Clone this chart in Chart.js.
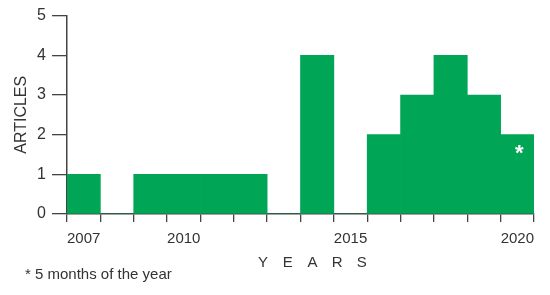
<!DOCTYPE html>
<html>
<head>
<meta charset="utf-8">
<script src="https://cdn.jsdelivr.net/npm/chart.js@4"></script>
<style>
  html, body { margin: 0; padding: 0; background: #fff; }
  #wrap { width: 550px; height: 295px; position: relative; }
</style>
</head>
<body>
<div id="wrap"><canvas id="articles-chart" width="550" height="295"></canvas></div>
<script>
// Data
const years = ['2007', '2008', '2009', '2010', '2011', '2012', '2013', '2014', '2015', '2016', '2017', '2018', '2019', '2020'];
const articles = [1, 0, 1, 1, 1, 1, 0, 4, 0, 2, 3, 4, 3, 2];
const shownYears = ['2007', '2010', '2015', '2020'];
const yTicks = [0, 1, 2, 3, 4, 5];
const partialYear = '2020';

const axisColor = '#444';
const textColor = '#333';
const barColor = '#00a555';
const fontFamily = '"Liberation Sans", Arial, sans-serif';

// Extra text: axis title letters, footnote, asterisk on the partial year
const annotations = {
    id: 'annotations',
    afterDraw(chart) {
        const ctx = chart.ctx;
        ctx.save();
        ctx.fillStyle = textColor;
        ctx.font = '15px ' + fontFamily;
        ctx.textAlign = 'center';
        ctx.textBaseline = 'middle';
        'YEARS'.split('').forEach((ch, i) => {
            ctx.fillText(ch, 263 + i * 24.7, 263);
        });

        ctx.font = '15px ' + fontFamily;
        ctx.textAlign = 'left';
        ctx.fillText('* 5 months of the year', 25, 275);

        // asterisk inside the 2020 bar
        const idx = years.indexOf(partialYear);
        const bar = chart.getDatasetMeta(0).data[idx];
        ctx.fillStyle = '#fff';
        ctx.font = 'bold 22px ' + fontFamily;
        ctx.textAlign = 'center';
        ctx.fillText('*', bar.x + 2, bar.y + 19);
        ctx.restore();
    }
};

new Chart(document.getElementById('articles-chart'), {
    type: 'bar',
    data: {
        labels: years,
        datasets: [{
            label: 'Articles',
            data: articles,
            backgroundColor: barColor,
            borderWidth: 0,
            barPercentage: 1,
            categoryPercentage: 1
        }]
    },
    options: {
        responsive: false,
        animation: false,
        layout: { padding: { left: 12, right: 16, top: 15, bottom: 0 } },
        plugins: {
            legend: { display: false },
            tooltip: { enabled: false }
        },
        scales: {
            x: {
                offset: true,
                grid: {
                    offset: true,
                    drawOnChartArea: false,
                    tickLength: 8,
                    color: axisColor,
                    lineWidth: 1.3
                },
                border: { color: axisColor, width: 1.5 },
                ticks: {
                    autoSkip: false,
                    maxRotation: 0,
                    color: textColor,
                    padding: 8,
                    font: { family: fontFamily, size: 15 },
                    callback: function(value) {
                        const label = this.getLabelForValue(value);
                        return shownYears.includes(label) ? label : '';
                    }
                },
                afterFit(scale) { scale.height = 81; }
            },
            y: {
                min: 0,
                max: 5,
                afterBuildTicks(scale) { scale.ticks = yTicks.map(v => ({ value: v })); },
                grid: {
                    drawOnChartArea: false,
                    tickLength: 15,
                    color: axisColor,
                    lineWidth: 1.3
                },
                border: { color: axisColor, width: 1.5 },
                ticks: {
                    color: textColor,
                    padding: 6,
                    font: { family: fontFamily, size: 16 }
                },
                title: {
                    display: true,
                    text: 'ARTICLES',
                    color: textColor,
                    padding: 0,
                    font: { family: fontFamily, size: 16 }
                },
                afterFit(scale) { scale.width = 55; }
            }
        }
    },
    plugins: [annotations]
});
</script>
</body>
</html>
